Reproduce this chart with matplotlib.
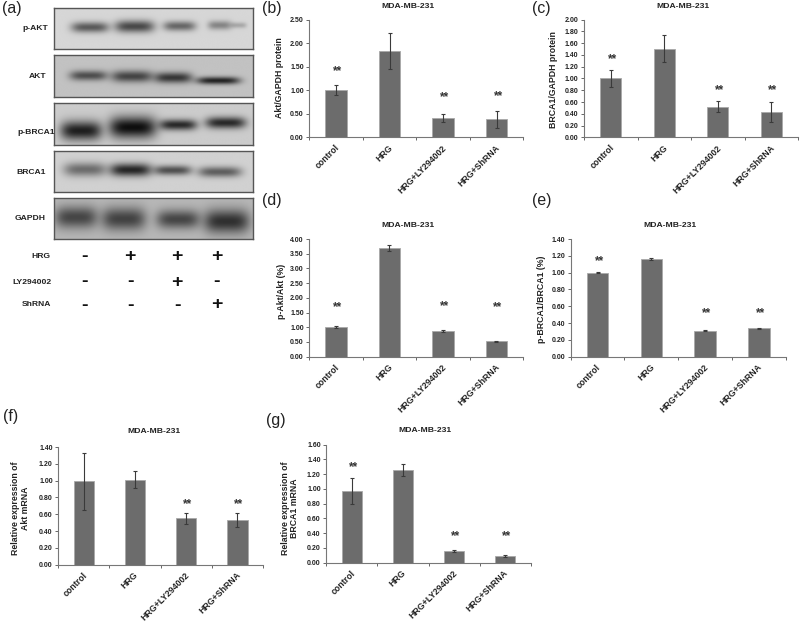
import numpy as np
import matplotlib
matplotlib.use('Agg')
import matplotlib.pyplot as plt

W, H = 800, 622
plt.rcParams['font.family'] = ['Liberation Sans', 'DejaVu Sans']

categories = ['control', 'HRG', 'HRG+LY294002', 'HRG+ShRNA']

# bar values, errors and where the ** sit (None = no stars)
b_vals = [1.00, 1.84, 0.42, 0.38]
b_errs = [0.105, 0.375, 0.085, 0.185]
b_stars = [1.40, None, 0.85, 0.88]
c_vals = [1.00, 1.51, 0.52, 0.43]
c_errs = [0.15, 0.235, 0.095, 0.17]
c_stars = [1.33, None, 0.80, 0.80]
d_vals = [1.00, 3.70, 0.88, 0.53]
d_errs = [0.03, 0.10, 0.04, 0.015]
d_stars = [1.70, None, 1.72, 1.68]
e_vals = [1.00, 1.16, 0.31, 0.34]
e_errs = [0.01, 0.01, 0.005, 0.005]
e_stars = [1.14, None, 0.515, 0.515]
f_vals = [0.99, 1.01, 0.55, 0.53]
f_errs = [0.335, 0.10, 0.06, 0.08]
f_stars = [None, None, 0.72, 0.72]
g_vals = [0.97, 1.26, 0.16, 0.09]
g_errs = [0.175, 0.085, 0.01, 0.015]
g_stars = [1.29, None, 0.357, 0.366]

# blot bands: centre x, centre y (inside panel, 0-1), half width, half height, darkness
blot_names = ['p-AKT', 'AKT', 'p-BRCA1', 'BRCA1', 'GAPDH']
blot_bg = [0.84, 0.76, 0.80, 0.82, 0.72]
pakt_bands = [(.180, .47, .095, .13, .58), (.405, .45, .100, .15, .66), (.632, .44, .082, .12, .52),
              (.835, .42, .060, .11, .38), (.930, .42, .040, .07, .22)]
akt_bands = [(.172, .49, .095, .12, .60), (.392, .51, .105, .14, .65), (.600, .54, .095, .13, .72),
             (.827, .61, .110, .09, .82)]
pbrca_bands = [(.135, .66, .105, .23, .85), (.395, .58, .120, .26, .93), (.625, .52, .095, .13, .80),
               (.865, .47, .102, .14, .80)]
brca_bands = [(.155, .45, .108, .17, .48), (.385, .46, .105, .16, .82), (.597, .47, .095, .12, .62),
              (.835, .51, .110, .13, .55)]
gapdh_bands = [(.110, .47, .108, .27, .62), (.350, .51, .112, .28, .64), (.625, .52, .110, .23, .62),
               (.870, .57, .115, .29, .74)]

hrg_signs = ['-', '+', '+', '+']
ly_signs = ['-', '-', '+', '-']
sh_signs = ['-', '-', '-', '+']


def px_axes(fig, left, top, right, bottom):
    return fig.add_axes([left / W, 1 - bottom / H, (right - left) / W, (bottom - top) / H])


def bar_panel(fig, box, vals, errs, stars, ymax, step, ylabel, title_xy, ylabel_xy):
    ax = px_axes(fig, *box)
    x = np.arange(len(vals)) + 0.5
    ax.bar(x, vals, width=0.4, color='#6c6c6c', edgecolor='#a8a8a8', linewidth=0.6, zorder=2)
    ax.errorbar(x, vals, yerr=errs, fmt='none', ecolor='#3a3a3a', elinewidth=0.8,
                capsize=1.2, capthick=0.8, zorder=3)
    for xi, s in zip(x, stars):
        if s is not None:
            ax.text(xi + 0.03, s, '**', ha='center', va='center', fontsize=8.5, fontweight='bold', color='#333333')
    ax.set_xlim(0, 4)
    ax.set_ylim(0, ymax)
    ax.set_yticks(np.arange(0, ymax + step / 2, step))
    ax.set_yticklabels(['%.2f' % t for t in ax.get_yticks()], fontsize=5, fontweight='bold', color='#222222')
    ax.set_xticks(range(5))
    ax.set_xticklabels([])
    # labels sit a touch right of the bar centre
    ax.set_xticks(x + 0.035, minor=True)
    ax.set_xticklabels(categories, minor=True, rotation=45, ha='right', va='center', rotation_mode='anchor',
                       fontsize=6.3, fontweight='bold', color='#222222')
    ax.tick_params(axis='x', which='minor', length=0, pad=6.5)
    ax.tick_params(axis='both', which='major', length=2, width=0.7, color='#666666', pad=2)
    for side in ['top', 'right']:
        ax.spines[side].set_visible(False)
    for side in ['left', 'bottom']:
        ax.spines[side].set_color('#777777')
        ax.spines[side].set_linewidth(0.8)
    fig.text(title_xy[0] / W, 1 - title_xy[1] / H, 'MDA-MB-231', ha='center', va='center',
             fontsize=6.1, fontweight='bold', color='#222222')
    fig.text(ylabel_xy[0] / W, 1 - ylabel_xy[1] / H, ylabel, ha='center', va='center', rotation=90,
             fontsize=6.3, fontweight='bold', color='#222222', linespacing=1.1)
    return ax


def blot_panel(fig, box, bg, bands):
    ax = px_axes(fig, *box)
    yy, xx = np.mgrid[0:1:124j, 0:1:198j]
    keep = np.ones_like(xx)
    for cx, cy, w, h, dark in bands:
        keep *= 1 - dark * np.exp(-((xx - cx) / w) ** 4 - ((yy - cy) / h) ** 2)
    ax.imshow(bg * keep, cmap='gray', vmin=0, vmax=1, aspect='auto', extent=(0, 1, 1, 0),
              interpolation='bilinear')
    ax.set_xticks([])
    ax.set_yticks([])
    for s in ax.spines.values():
        s.set_color('#555555')
        s.set_linewidth(1.0)
    return ax


def px_text(fig, x, y, s, **kw):
    fig.text(x / W, 1 - y / H, s, **kw)


fig = plt.figure(figsize=(W / 100, H / 100), dpi=100, facecolor='white')

# (a) western blots
blot_boxes = [(54.3, 8.3, 252.7, 49.3), (54.3, 55.3, 252.7, 96.7), (54.3, 103.3, 252.7, 144.7),
              (54.3, 150.7, 252.7, 191.7), (54.3, 198.3, 252.7, 239.3)]
blot_label_pos = [(47.7, 28), (46, 76.7), (55, 133), (46, 172.7), (46, 218)]
all_bands = [pakt_bands, akt_bands, pbrca_bands, brca_bands, gapdh_bands]
for box, bg, bands, name, pos in zip(blot_boxes, blot_bg, all_bands, blot_names, blot_label_pos):
    blot_panel(fig, box, bg, bands)
    px_text(fig, pos[0], pos[1], name, ha='right', va='center', fontsize=6.1, fontweight='bold', color='#222222')

sign_x = [85, 130, 177.3, 216.7]
for label, signs, lx, ly in [('HRG', hrg_signs, 50.7, 256.7), ('LY294002', ly_signs, 51.5, 282), ('ShRNA', sh_signs, 50.7, 305)]:
    px_text(fig, lx, ly, label, ha='right', va='center', fontsize=6.1, fontweight='bold', color='#222222')
    for sx, sign in zip(sign_x, signs):
        px_text(fig, sx, ly, sign, ha='center', va='center', fontsize=14, fontweight='bold', color='#111111')

# bar panels
bar_panel(fig, (309.3, 20, 523.3, 137.3), b_vals, b_errs, b_stars, 2.5, 0.5, 'Akt/GAPDH protein', (408, 7), (279, 78))
bar_panel(fig, (584, 19.7, 798, 137.3), c_vals, c_errs, c_stars, 2.0, 0.2, 'BRCA1/GAPDH protein', (683, 7), (554, 80))
bar_panel(fig, (309.3, 239, 523, 356.7), d_vals, d_errs, d_stars, 4.0, 0.5, 'p-Akt/Akt (%)', (408, 225.7), (281.7, 291))
bar_panel(fig, (570.7, 239, 785.7, 356.7), e_vals, e_errs, e_stars, 1.4, 0.2, 'p-BRCA1/BRCA1 (%)', (669.5, 225.7), (541, 299))
bar_panel(fig, (58.3, 447, 263, 564.7), f_vals, f_errs, f_stars, 1.4, 0.2, 'Relative expression of\nAkt mRNA', (154, 431.7), (20.7, 508))
bar_panel(fig, (326.3, 444.7, 530.7, 562.7), g_vals, g_errs, g_stars, 1.6, 0.2, 'Relative expression of\nBRCA1 mRNA', (425, 431), (290, 508))

# panel letters
for s, x, y in [('(a)', 2, 9), ('(b)', 262, 9), ('(c)', 532, 9), ('(d)', 262, 200), ('(e)', 532, 200),
                ('(f)', 3, 417), ('(g)', 266, 421)]:
    px_text(fig, x, y, s, ha='left', va='center', fontsize=11.4, color='#222222')

fig.savefig('out.png', dpi=100)
